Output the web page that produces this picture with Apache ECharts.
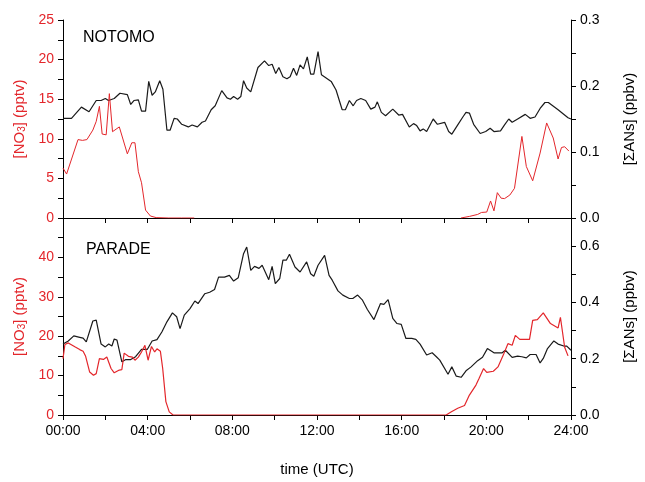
<!DOCTYPE html>
<html>
<head>
<meta charset="utf-8">
<script src="https://cdn.jsdelivr.net/npm/echarts@6/dist/echarts.min.js"></script>
<style>html,body{margin:0;padding:0;background:#fff}#c{width:645px;height:482px}</style>
</head>
<body>
<div id="c"></div>
<script>
// time in hours UTC, value
const notomoANs = [[0,0.151],[0.4,0.151],[0.87,0.168],[1.23,0.161],[1.57,0.178],[1.8,0.178],[2.0,0.181],[2.15,0.178],[2.42,0.181],[2.69,0.189],[3.04,0.187],[3.2,0.172],[3.35,0.178],[3.56,0.179],[3.71,0.162],[3.9,0.162],[4.05,0.207],[4.21,0.186],[4.36,0.191],[4.57,0.208],[4.72,0.195],[4.91,0.133],[5.06,0.133],[5.25,0.151],[5.4,0.150],[5.61,0.142],[5.92,0.138],[6.1,0.141],[6.35,0.138],[6.57,0.145],[6.73,0.147],[7.0,0.164],[7.19,0.170],[7.5,0.193],[7.75,0.182],[7.91,0.180],[8.06,0.184],[8.25,0.180],[8.4,0.184],[8.53,0.208],[8.68,0.197],[8.87,0.191],[9.21,0.228],[9.52,0.238],[9.72,0.231],[9.88,0.233],[10.05,0.219],[10.2,0.228],[10.39,0.214],[10.58,0.211],[10.73,0.214],[10.89,0.227],[11.04,0.216],[11.2,0.232],[11.36,0.226],[11.54,0.244],[11.7,0.218],[11.85,0.218],[12.05,0.252],[12.21,0.217],[12.67,0.207],[12.9,0.194],[13.19,0.164],[13.34,0.164],[13.53,0.178],[13.71,0.170],[13.87,0.178],[14.07,0.181],[14.3,0.178],[14.54,0.165],[14.74,0.168],[14.85,0.176],[15.04,0.160],[15.24,0.155],[15.58,0.165],[15.86,0.156],[16.04,0.157],[16.36,0.138],[16.56,0.143],[16.71,0.140],[16.87,0.132],[17.02,0.135],[17.18,0.131],[17.49,0.150],[17.69,0.142],[18.03,0.145],[18.22,0.131],[18.37,0.127],[18.65,0.141],[18.89,0.153],[19.04,0.160],[19.2,0.159],[19.4,0.142],[19.71,0.128],[19.97,0.131],[20.18,0.136],[20.36,0.131],[20.67,0.132],[20.86,0.141],[21.06,0.150],[21.22,0.145],[21.48,0.150],[21.84,0.157],[22.07,0.151],[22.3,0.153],[22.54,0.166],[22.77,0.175],[22.93,0.175],[23.39,0.164],[23.86,0.152],[24,0.150]];
const notomoNO3 = [[0,6.3],[0.17,5.55],[0.71,9.9],[0.92,9.8],[1.13,9.9],[1.41,11.1],[1.57,12.2],[1.72,14.1],[1.85,10.6],[2.04,10.5],[2.19,15.7],[2.34,10.9],[2.66,11.5],[2.73,11.6],[3.04,8.1],[3.25,9.5],[3.4,9.5],[3.56,5.85],[3.71,4.45],[3.9,1.0],[4.13,0.25],[4.4,0.05],[5.0,0],[5.6,0],[6.2,0],[6.3,null],[18.8,0],[18.89,0],[19.2,0.2],[19.59,0.45],[19.77,0.7],[20.02,0.75],[20.2,2.15],[20.36,0.9],[20.52,3.2],[20.7,2.5],[20.86,2.45],[21.11,2.9],[21.33,3.75],[21.68,10.3],[21.89,6.5],[22.19,4.7],[22.54,8.2],[22.85,12.0],[23.16,10.1],[23.39,7.45],[23.55,8.9],[23.7,9.0],[23.9,8.45]];
const paradeANs = [[0,0.252],[0.25,0.263],[0.51,0.281],[0.79,0.276],[0.95,0.273],[1.1,0.260],[1.41,0.334],[1.57,0.337],[1.8,0.252],[2.0,0.242],[2.16,0.252],[2.31,0.245],[2.42,0.270],[2.55,0.266],[2.78,0.189],[2.97,0.197],[3.2,0.197],[3.43,0.207],[3.71,0.233],[3.98,0.233],[4.21,0.263],[4.44,0.268],[4.67,0.295],[4.91,0.331],[5.17,0.363],[5.37,0.349],[5.53,0.307],[5.73,0.355],[6.0,0.378],[6.23,0.405],[6.38,0.396],[6.7,0.431],[6.93,0.436],[7.16,0.446],[7.35,0.490],[7.63,0.490],[7.86,0.496],[8.06,0.476],[8.28,0.488],[8.53,0.573],[8.68,0.597],[8.87,0.514],[9.05,0.528],[9.26,0.521],[9.41,0.532],[9.72,0.481],[9.88,0.528],[10.03,0.467],[10.24,0.485],[10.39,0.550],[10.55,0.550],[10.7,0.571],[10.96,0.526],[11.2,0.508],[11.51,0.544],[11.7,0.502],[11.85,0.493],[12.05,0.532],[12.36,0.567],[12.57,0.496],[12.72,0.479],[12.99,0.441],[13.22,0.426],[13.53,0.414],[13.69,0.414],[13.92,0.426],[14.15,0.408],[14.38,0.375],[14.69,0.339],[15.0,0.396],[15.16,0.393],[15.36,0.410],[15.58,0.343],[15.78,0.325],[15.98,0.322],[16.2,0.272],[16.48,0.272],[16.67,0.269],[16.87,0.252],[17.18,0.213],[17.44,0.221],[17.64,0.207],[17.8,0.195],[18.19,0.145],[18.37,0.171],[18.58,0.138],[18.81,0.134],[19.04,0.157],[19.28,0.171],[19.59,0.193],[19.82,0.205],[20.05,0.236],[20.36,0.221],[20.75,0.221],[20.9,0.230],[21.22,0.205],[21.48,0.209],[21.68,0.207],[21.89,0.203],[22.07,0.215],[22.35,0.215],[22.54,0.185],[22.69,0.201],[22.89,0.236],[23.19,0.263],[23.39,0.252],[23.66,0.245],[23.8,0.245],[24.0,0.230]];
const paradeNO3 = [[0,14.3],[0.09,17.9],[0.25,18.3],[0.56,17.3],[0.79,16.6],[0.95,16.2],[1.07,14.9],[1.26,10.9],[1.44,10.1],[1.57,10.5],[1.72,14.3],[1.91,14.1],[2.07,14.7],[2.27,11.8],[2.42,10.7],[2.66,11.4],[2.78,11.5],[2.89,15.7],[3.09,14.9],[3.28,14.7],[3.4,13.9],[3.56,14.7],[3.71,16.0],[3.87,17.7],[4.02,13.9],[4.18,17.4],[4.33,16.0],[4.44,16.8],[4.6,16.2],[4.71,11.8],[4.86,3.4],[5.02,0.8],[5.2,0],[18.1,0],[18.35,0.8],[18.65,1.7],[18.97,2.4],[19.2,5.05],[19.51,7.6],[19.66,9.3],[19.87,11.8],[20.02,10.8],[20.33,11.1],[20.55,12.2],[20.8,15.2],[21.02,18.1],[21.22,17.7],[21.37,20.2],[21.58,19.2],[22.04,19.2],[22.19,24.0],[22.41,24.2],[22.69,25.9],[23.03,23.2],[23.39,22.1],[23.5,24.8],[23.7,17.2],[23.86,15.0]];

const panelTitles = ['NOTOMO', 'PARADE'];
const xAxisTitle = 'time (UTC)';
const leftAxisTitle = '[NO{sub|3}] (pptv)';
const rightAxisTitle = '[\u03A3ANs] (ppbv)';

const RED = '#e3262b';
const FONT = '"Liberation Sans", Arial, sans-serif';

function xAxis(gi, showLabels) {
  return {
    type: 'value', gridIndex: gi, min: 0, max: 24, interval: 2,
    axisLine: { show: true, lineStyle: { color: '#000', width: 1 } },
    axisTick: { show: true, inside: false, length: 5, lineStyle: { color: '#000' } },
    splitLine: { show: false },
    axisLabel: {
      show: showLabels, color: '#000', fontSize: 14, fontFamily: FONT, margin: 9,
      formatter: v => (v % 4 === 0) ? ((v < 10 ? '0' : '') + v + ':00') : ''
    },
    name: showLabels ? xAxisTitle : '', nameLocation: 'middle', nameGap: 47,
    nameTextStyle: { color: '#000', fontSize: 15, fontFamily: FONT }
  };
}
function yAxis(gi, pos, max, interval, fmt, color, name, gap) {
  return {
    type: 'value', gridIndex: gi, position: pos, min: 0, max: max, interval: interval,
    axisLine: { show: true, lineStyle: { color: '#000', width: 1 } },
    axisTick: { show: true, inside: false, length: 5, lineStyle: { color: '#000' } },
    splitLine: { show: false },
    axisLabel: { color: color, fontSize: 14, fontFamily: FONT, margin: 9, formatter: fmt, showMaxLabel: true, showMinLabel: true },
    name: name, nameLocation: 'middle', nameGap: gap, nameRotate: 90,
    nameTextStyle: { color: color, fontSize: 15, fontFamily: FONT,
      rich: { sub: { fontSize: 10, color: color, fontFamily: FONT, verticalAlign: 'bottom', padding: [4, 0, 0, 0] } } }
  };
}
const r = v => Math.round(v * 1000);
const opt = {
  animation: false,
  backgroundColor: '#fff',
  title: [
    { text: panelTitles[0], left: 83, top: 30, padding: 0, textStyle: { fontSize: 16, fontWeight: 'normal', color: '#000', fontFamily: FONT } },
    { text: panelTitles[1], left: 86, top: 242, padding: 0, textStyle: { fontSize: 16, fontWeight: 'normal', color: '#000', fontFamily: FONT } }
  ],
  grid: [
    { left: 63, right: 67, top: 20, height: 198 },
    { left: 63, right: 67, top: 218, height: 197 }
  ],
  xAxis: [xAxis(0, false), xAxis(1, true)],
  yAxis: [
    yAxis(0, 'left', 25, 2.5, v => (r(v) % 5000 === 0 ? String(Math.round(v)) : ''), RED, leftAxisTitle, 31),
    yAxis(0, 'right', 0.3, 0.05, v => (r(v) % 100 === 0 ? v.toFixed(1) : ''), '#000', rightAxisTitle, 51),
    yAxis(1, 'left', 50, 5, v => (r(v) % 10000 === 0 && v < 50 ? String(Math.round(v)) : ''), RED, leftAxisTitle, 31),
    yAxis(1, 'right', 0.7, 0.1, v => (r(v) % 200 === 0 ? v.toFixed(1) : ''), '#000', rightAxisTitle, 51)
  ],
  series: [
    { type: 'line', xAxisIndex: 0, yAxisIndex: 1, data: notomoANs, showSymbol: false, symbol: 'none', lineStyle: { color: '#1a1a1a', width: 1.2 }, z: 3 },
    { type: 'line', xAxisIndex: 0, yAxisIndex: 0, data: notomoNO3, showSymbol: false, symbol: 'none', connectNulls: false, lineStyle: { color: RED, width: 1 }, z: 4 },
    { type: 'line', xAxisIndex: 1, yAxisIndex: 3, data: paradeANs, showSymbol: false, symbol: 'none', lineStyle: { color: '#1a1a1a', width: 1.2 }, z: 3 },
    { type: 'line', xAxisIndex: 1, yAxisIndex: 2, data: paradeNO3, showSymbol: false, symbol: 'none', lineStyle: { color: RED, width: 1.2 }, z: 4 }
  ]
};
const chart = echarts.init(document.getElementById('c'), null, { renderer: 'canvas' });
chart.setOption(opt);
</script>
</body>
</html>
